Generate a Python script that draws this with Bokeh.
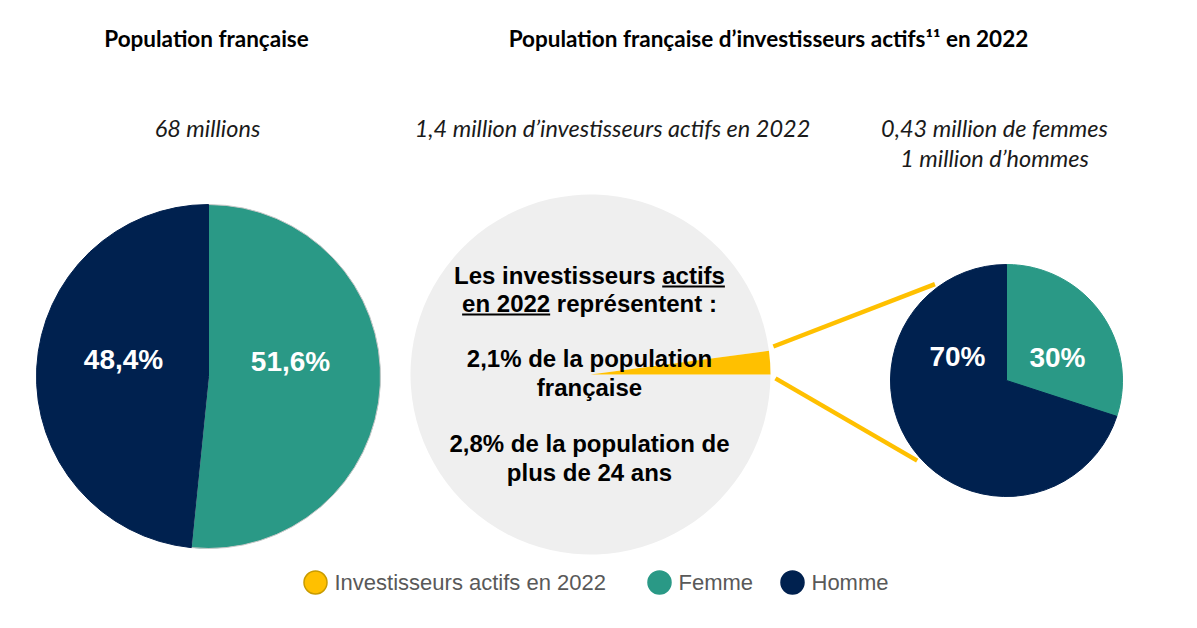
import math
from bokeh.plotting import figure
from bokeh.models import Range1d
from bokeh.core.properties import value
from bokeh.embed import file_html
from bokeh.resources import INLINE

# ---------------- data ----------------
pop_labels = ["Femme", "Homme"]
pop_share = [51.6, 48.4]
pop_text = ["51,6%", "48,4%"]

invest_labels = ["Investisseurs actifs en 2022", "Reste de la population"]
invest_share = [2.1, 97.9]

inv_gender_labels = ["Femme", "Homme"]
inv_gender_share = [30.0, 70.0]
inv_gender_text = ["30%", "70%"]

title_left = "Population française"
title_right = "Population française d\u2019investisseurs actifs\u00b9\u00b9 en 2022"
sub_left = "68 millions"
sub_mid = "1,4 million d\u2019investisseurs actifs en 2022"
sub_right = ["0,43 million de femmes", "1 million d\u2019hommes"]
mid_lines = ["Les investisseurs actifs", "en 2022 représentent :",
             "2,1% de la population", "française",
             "2,8% de la population de", "plus de 24 ans"]
legend_labels = ["Investisseurs actifs en 2022", "Femme", "Homme"]

# ---------------- style ----------------
NAVY = "#00214F"
TEAL = "#2A9986"
YELLOW = "#FFC000"
GREY = "#EFEFEF"
colors = {"Femme": TEAL, "Homme": NAVY}

W, H = 1180, 610
Y0 = 628  # screen-y -> data-y flip


def Y(sy):
    return Y0 - sy


p = figure(width=W, height=H, output_backend="svg", toolbar_location=None,
           x_range=Range1d(0, W), y_range=Range1d(Y0 - H, Y0),
           x_axis_location=None, y_axis_location=None, min_border=0)
p.grid.visible = False
p.outline_line_color = None
p.background_fill_color = "white"
p.border_fill_color = "white"

# Arial-bold widths (per em) for measuring the underlined words
AB = {" ": .278, "a": .556, "c": .556, "d": .611, "e": .556, "f": .333, "i": .278,
      "n": .611, "p": .611, "r": .389, "s": .556, "t": .333, "u": .611, "v": .556,
      "é": .556, "L": .611, "0": .556, "2": .556, ":": .333}


def tw(s, size):
    return sum(AB.get(c, .556) for c in s) * size


def pie(cx, cy, r, labels, shares, outline=None):
    total = sum(shares)
    ang = math.pi / 2
    for lab, sh in zip(labels, shares):
        a1 = ang
        a0 = ang - 2 * math.pi * sh / total
        lc = outline if (outline and lab == "Femme") else colors[lab]
        p.wedge(x=cx, y=Y(cy), radius=r, start_angle=a0, end_angle=a1,
                fill_color=colors[lab], line_color=lc, line_width=1)
        ang = a0


# ---- left pie
LCX, LCY, LR = 208, 376, 172
pie(LCX, LCY, LR, pop_labels, pop_share, outline="#C8C8C8")
p.text(x=[290, 123], y=[Y(361), Y(359)], text=pop_text, text_color="white",
       text_font=value("Liberation Sans"), text_font_style="bold", text_font_size="28px",
       text_align="center", text_baseline="middle")

# ---- middle pie
MCX, MCY, MR = 590, 374, 180
frac = invest_share[0] / sum(invest_share)
p.wedge(x=MCX, y=Y(MCY), radius=MR, start_angle=2 * math.pi * frac, end_angle=2 * math.pi,
        fill_color=GREY, line_color=None)
p.wedge(x=MCX, y=Y(MCY), radius=MR, start_angle=0, end_angle=2 * math.pi * frac,
        fill_color=YELLOW, line_color=None)

# ---- right pie
RCX, RCY, RR = 1006, 380, 116
pie(RCX, RCY, RR, inv_gender_labels, inv_gender_share)
p.text(x=[1057, 957], y=[Y(357), Y(356)], text=inv_gender_text, text_color="white",
       text_font=value("Liberation Sans"), text_font_style="bold", text_font_size="28px",
       text_align="center", text_baseline="middle")

# ---- connector lines (from the yellow slice to the gender pie)
a_top_m, a_bot_m = math.radians(8.7), math.radians(-1.2)
a_top_r, a_bot_r = math.radians(126.6), math.radians(221.9)
rm, rr = MR + 5, RR + 4
p.segment(x0=[MCX + rm * math.cos(a_top_m), MCX + rm * math.cos(a_bot_m)],
          y0=[Y(MCY) + rm * math.sin(a_top_m), Y(MCY) + rm * math.sin(a_bot_m)],
          x1=[RCX + rr * math.cos(a_top_r), RCX + rr * math.cos(a_bot_r)],
          y1=[Y(RCY) + rr * math.sin(a_top_r), Y(RCY) + rr * math.sin(a_bot_r)],
          line_color=YELLOW, line_width=4.5)

# ---- middle text
FS = 24
mid_y = [275, 303, 358, 387, 443, 472]
MTX = 589
p.text(x=[MTX] * 6, y=[Y(v) for v in mid_y], text=mid_lines, text_color="black",
       text_font=value("Liberation Sans"), text_font_style="bold", text_font_size=f"{FS}px",
       text_align="center", text_baseline="middle")
w1 = tw(mid_lines[0], FS)
l1 = MTX - w1 / 2
u1x0 = l1 + tw("Les investisseurs ", FS)
u1x1 = l1 + w1
w2 = tw(mid_lines[1], FS)
l2 = MTX - w2 / 2
u2x0 = l2
u2x1 = l2 + tw("en 2022", FS)
p.segment(x0=[u1x0, u2x0], y0=[Y(mid_y[0] + 11), Y(mid_y[1] + 11)],
          x1=[u1x1, u2x1], y1=[Y(mid_y[0] + 11), Y(mid_y[1] + 11)],
          line_color="black", line_width=2)

# ---- titles
p.text(x=[206, 768], y=[Y(38), Y(38)], text=[title_left, title_right], text_color="black",
       text_font=value("Lato"), text_font_style="bold", text_font_size="22.5px",
       text_align="center", text_baseline="middle")
p.text(x=[207, 612, 994, 994], y=[Y(127), Y(127), Y(127), Y(157)],
       text=[sub_left, sub_mid] + sub_right, text_color="#1a1a1a",
       text_font=value("Lato"), text_font_style="italic", text_font_size="23.5px",
       text_align="center", text_baseline="middle")

# ---- legend
leg_cx = [315, 659, 792]
leg_col = [YELLOW, TEAL, NAVY]
leg_line = ["#C89B00", TEAL, NAVY]
p.circle(x=leg_cx, y=[Y(582)] * 3, radius=11.5, fill_color=leg_col, line_color=leg_line,
         line_width=1.5)
p.text(x=[c + 19 for c in leg_cx], y=[Y(582)] * 3, text=legend_labels, text_color="#595959",
       text_font=value("Liberation Sans"), text_font_size="22px",
       text_align="left", text_baseline="middle")

open("out.html", "w").write(file_html(p, INLINE))
